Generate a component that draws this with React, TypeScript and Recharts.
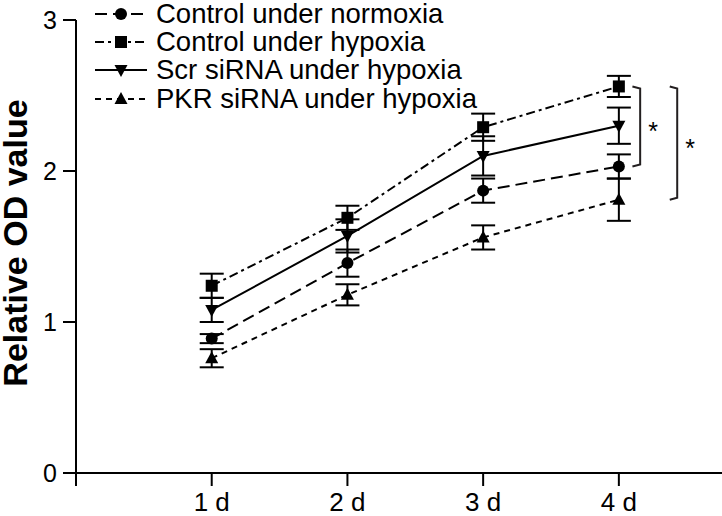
import React from "react";
import { LineChart, Line, XAxis, YAxis, ErrorBar, Legend, ReferenceArea } from "recharts";

const days = [1, 2, 3, 4];
const normoxia = [0.89, 1.39, 1.87, 2.03];
const normoxiaErr = [0.03, 0.09, 0.08, 0.08];
const hypoxia = [1.24, 1.69, 2.29, 2.56];
const hypoxiaErr = [0.08, 0.08, 0.09, 0.07];
const scr = [1.08, 1.57, 2.1, 2.3];
const scrErr = [0.08, 0.11, 0.13, 0.12];
const pkr = [0.76, 1.18, 1.56, 1.81];
const pkrErr = [0.06, 0.07, 0.08, 0.14];
const yTicks = [0, 1, 2, 3];
const xTicks = [0, 1, 2, 3, 4];

const data = days.map((d, i) => ({
  day: d,
  normoxia: normoxia[i],
  normoxiaErr: normoxiaErr[i],
  hypoxia: hypoxia[i],
  hypoxiaErr: hypoxiaErr[i],
  scr: scr[i],
  scrErr: scrErr[i],
  pkr: pkr[i],
  pkrErr: pkrErr[i],
}));

type Shape = "circle" | "square" | "down" | "up";

const marker = (shape: Shape, cx: number, cy: number, key?: any) => {
  if (shape === "circle") return <circle key={key} cx={cx} cy={cy} r={6} fill="#000" />;
  if (shape === "square") return <rect key={key} x={cx - 6} y={cy - 6} width={12} height={12} fill="#000" />;
  if (shape === "down")
    return <path key={key} d={`M${cx - 6.5},${cy - 5} L${cx + 6.5},${cy - 5} L${cx},${cy + 7} Z`} fill="#000" />;
  return <path key={key} d={`M${cx - 6.5},${cy + 5} L${cx + 6.5},${cy + 5} L${cx},${cy - 7} Z`} fill="#000" />;
};

const series = [
  { key: "normoxia", name: "Control under normoxia", shape: "circle" as Shape, dash: "12 6" },
  { key: "hypoxia", name: "Control under hypoxia", shape: "square" as Shape, dash: "9 4 3 4" },
  { key: "scr", name: "Scr siRNA under hypoxia", shape: "down" as Shape, dash: undefined },
  { key: "pkr", name: "PKR siRNA under hypoxia", shape: "up" as Shape, dash: "6 5" },
];

const LegendContent = () => (
  <div style={{ fontFamily: "Arial, 'Liberation Sans', sans-serif" }}>
    {series.map((s) => (
      <div key={s.key} style={{ display: "flex", alignItems: "center", height: 28.2 }}>
        <svg width={52} height={20} style={{ display: "block" }}>
          <line x1={0} y1={10} x2={52} y2={10} stroke="#000" strokeWidth={2} strokeDasharray={s.dash} />
          {marker(s.shape, 26, 10)}
        </svg>
        <span style={{ marginLeft: 9, fontSize: 27.5, lineHeight: "28px", color: "#000", whiteSpace: "nowrap" }}>
          {s.name}
        </span>
      </div>
    ))}
  </div>
);

const YLabel = () => (
  <text
    x={27}
    y={243}
    transform="rotate(-90 27 243)"
    textAnchor="middle"
    fontSize={34}
    fontWeight="bold"
    fontFamily="Arial, 'Liberation Sans', sans-serif"
    fill="#000"
  >
    Relative OD value
  </text>
);

const bracket = (label: string) => (props: any) => {
  const { x, y, width, height } = props;
  const xr = x + width;
  return (
    <g>
      <path
        d={`M${x},${y} L${xr},${y + 2} L${xr},${y + height - 2} L${x},${y + height}`}
        fill="none"
        stroke="#231f20"
        strokeWidth={2}
      />
      <text x={xr + 13} y={y + height / 2 + 14} textAnchor="middle" fontSize={25} fontFamily="Arial, 'Liberation Sans', sans-serif" fill="#000">
        {label}
      </text>
    </g>
  );
};

export default function App() {
  const font = "Arial, 'Liberation Sans', sans-serif";
  return (
    <div style={{ position: "absolute", left: 0, top: 0, background: "#fff" }}>
      <LineChart width={722} height={516} data={data} margin={{ top: 20, right: 0, bottom: 0, left: 0 }}>
        <XAxis
          dataKey="day"
          type="number"
          domain={[0, 4.76]}
          ticks={xTicks}
          allowDataOverflow
          tickFormatter={(v: number) => (v === 0 ? "" : `${v} d`)}
          height={43}
          tickSize={13}
          tickMargin={7}
          axisLine={{ stroke: "#000", strokeWidth: 2 }}
          tickLine={{ stroke: "#000", strokeWidth: 2 }}
          tick={{ fill: "#000", fontSize: 26, fontFamily: font }}
        />
        <YAxis
          domain={[0, 3]}
          ticks={yTicks}
          width={76}
          tickSize={13}
          tickMargin={6}
          axisLine={{ stroke: "#000", strokeWidth: 2 }}
          tickLine={{ stroke: "#000", strokeWidth: 2 }}
          tick={{ fill: "#000", fontSize: 25, fontFamily: font }}
          label={<YLabel />}
        />
        <Legend
          layout="horizontal"
          verticalAlign="middle"
          align="center"
          content={<LegendContent />}
          wrapperStyle={{ position: "absolute", left: 95, top: 0, width: 420 }}
        />
        {series.map((s) => (
          <Line
            key={s.key}
            dataKey={s.key}
            name={s.name}
            stroke="#000"
            strokeWidth={2}
            strokeDasharray={s.dash}
            isAnimationActive={false}
            dot={(p: any) => marker(s.shape, p.cx, p.cy, `${s.key}-${p.index}`)}
            activeDot={false}
          >
            <ErrorBar dataKey={`${s.key}Err`} direction="y" width={12} strokeWidth={2} stroke="#000" isAnimationActive={false} />
          </Line>
        ))}
        <ReferenceArea
          x1={4.1}
          x2={4.157}
          y1={normoxia[3]}
          y2={hypoxia[3]}
          ifOverflow="visible"
          shape={bracket("*")}
        />
        <ReferenceArea
          x1={4.375}
          x2={4.43}
          y1={pkr[3]}
          y2={hypoxia[3]}
          ifOverflow="visible"
          shape={bracket("*")}
        />
      </LineChart>
    </div>
  );
}
